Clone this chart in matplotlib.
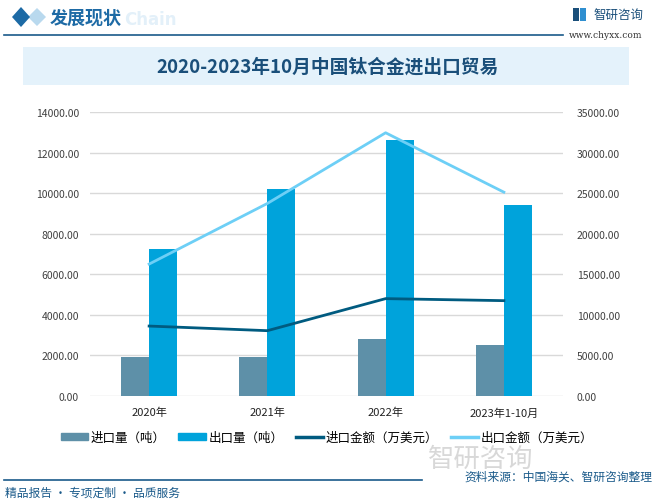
import numpy as np
import matplotlib
matplotlib.use("Agg")
import matplotlib.pyplot as plt
from matplotlib.lines import Line2D
from matplotlib.patches import Patch, Polygon, Rectangle

plt.rcParams["font.family"] = ["Noto Sans CJK SC", "DejaVu Sans"]

# data
categories = ["2020年", "2021年", "2022年", "2023年1-10月"]
import_qty = [1900, 1900, 2800, 2500]          # 进口量（吨）
export_qty = [7230, 10180, 12600, 9440]        # 出口量（吨）
import_value = [8620, 8050, 12000, 11750]      # 进口金额（万美元）
export_value = [16260, 23730, 32440, 25120]    # 出口金额（万美元）

left_ticks = [0, 2000, 4000, 6000, 8000, 10000, 12000, 14000]
right_ticks = [0, 5000, 10000, 15000, 20000, 25000, 30000, 35000]

c_imp_bar = "#5e90a8"
c_exp_bar = "#00a3db"
c_imp_line = "#005b80"
c_exp_line = "#6dcff6"
c_dark = "#1a5a8a"
tick_col = "#404040"

W, H = 657, 502
fig = plt.figure(figsize=(W / 100, H / 100), dpi=100)


def fx(px):
    return px / W


def fy(py):
    return 1 - py / H


# ---- header ----
bg = fig.add_axes([0, 0, 1, 1], zorder=-5)
bg.set_xlim(0, W)
bg.set_ylim(H, 0)
bg.axis("off")
bg.add_patch(Polygon([[28, 18], [37, 9], [46, 18], [37, 27]], closed=True,
                     color="#b9d9ee", lw=0))
bg.add_patch(Polygon([[12, 18], [21, 8], [30, 18], [21, 28]], closed=True,
                     color="#1d6aa5", lw=0))
bg.text(124, 20, "Chain", fontsize=12, fontweight="bold", color="#e3f0f9",
        va="center", ha="left", family="DejaVu Sans")
bg.text(50, 18, "发展现状", fontsize=13, fontweight="bold", color="#1d6aa5",
        va="center", ha="left")
bg.plot([4, 563], [35.5, 35.5], color=c_dark, lw=1.2)

# logo top right
bg.add_patch(Rectangle((573, 9), 6, 13, color="#1a4f7a", lw=0))
bg.add_patch(Rectangle((580, 9), 6, 13, color="#2f8fd0", lw=0))
bg.text(594, 15, "智研咨询", fontsize=9, color="#1a4f7a", va="center", ha="left")
bg.text(569, 36, "www.chyxx.com", fontsize=6.5, color="#333333", va="center",
        ha="left", family="DejaVu Serif")

# title banner
bg.add_patch(Rectangle((23, 48), 606, 38, color="#e4f2fb", lw=0))
bg.text(328, 67, "2020-2023年10月中国钛合金进出口贸易", fontsize=13.5,
        fontweight="bold", color="#1a4f7a", va="center", ha="center")

# footer
bg.text(428, 459, "智研咨询", fontsize=19, color="#d8d8d8", va="center", ha="left")
bg.plot([4, 422], [480.5, 480.5], color=c_dark, lw=1.2)
bg.text(652, 477, "资料来源：中国海关、智研咨询整理", fontsize=8.5, color="#1a5a8a",
        va="center", ha="right")
bg.text(5, 493, "精品报告 · 专项定制 · 品质服务", fontsize=8.5, color="#1a5a8a",
        va="center", ha="left")

# ---- chart ----
ax = fig.add_axes([fx(90), fy(397), fx(563 - 90), (397 - 113) / H])
x = np.arange(len(categories))
w = 0.237
ax.bar(x - w / 2, import_qty, width=w, color=c_imp_bar, zorder=2)
ax.bar(x + w / 2, export_qty, width=w, color=c_exp_bar, zorder=2)
ax.set_xlim(-0.5, 3.5)
ax.set_ylim(0, 14000)
ax.set_yticks(left_ticks)
ax.set_yticklabels([f"{v:.2f}" for v in left_ticks])
ax.set_xticks(x)
ax.set_xticklabels(categories)
ax.yaxis.grid(True, color="#d9d9d9", lw=1, zorder=0)
ax.set_axisbelow(True)
for s in ax.spines.values():
    s.set_visible(False)
ax.tick_params(axis="y", length=0, pad=8, labelsize=7.5, labelcolor=tick_col)
ax.tick_params(axis="x", length=0, pad=8, labelsize=8, labelcolor="#222222")

ax2 = ax.twinx()
ax2.plot(x, import_value, color=c_imp_line, lw=2, zorder=3)
ax2.plot(x, export_value, color=c_exp_line, lw=2, zorder=3)
ax2.set_ylim(0, 35000)
ax2.set_yticks(right_ticks)
ax2.set_yticklabels([f"{v:.2f}" for v in right_ticks])
for s in ax2.spines.values():
    s.set_visible(False)
ax2.tick_params(axis="y", length=0, pad=10, labelsize=7.5, labelcolor=tick_col)

handles = [
    Patch(color=c_imp_bar, label="进口量（吨）"),
    Patch(color=c_exp_bar, label="出口量（吨）"),
    Line2D([0], [0], color=c_imp_line, lw=2.5, label="进口金额（万美元）"),
    Line2D([0], [0], color=c_exp_line, lw=2.5, label="出口金额（万美元）"),
]
fig.legend(handles=handles, loc="center", bbox_to_anchor=(fx(327), fy(438)),
           ncol=4, frameon=False, fontsize=9, handlelength=2.2, handleheight=0.5,
           handletextpad=0.2, columnspacing=1.0)

fig.savefig("out.png", dpi=100)
